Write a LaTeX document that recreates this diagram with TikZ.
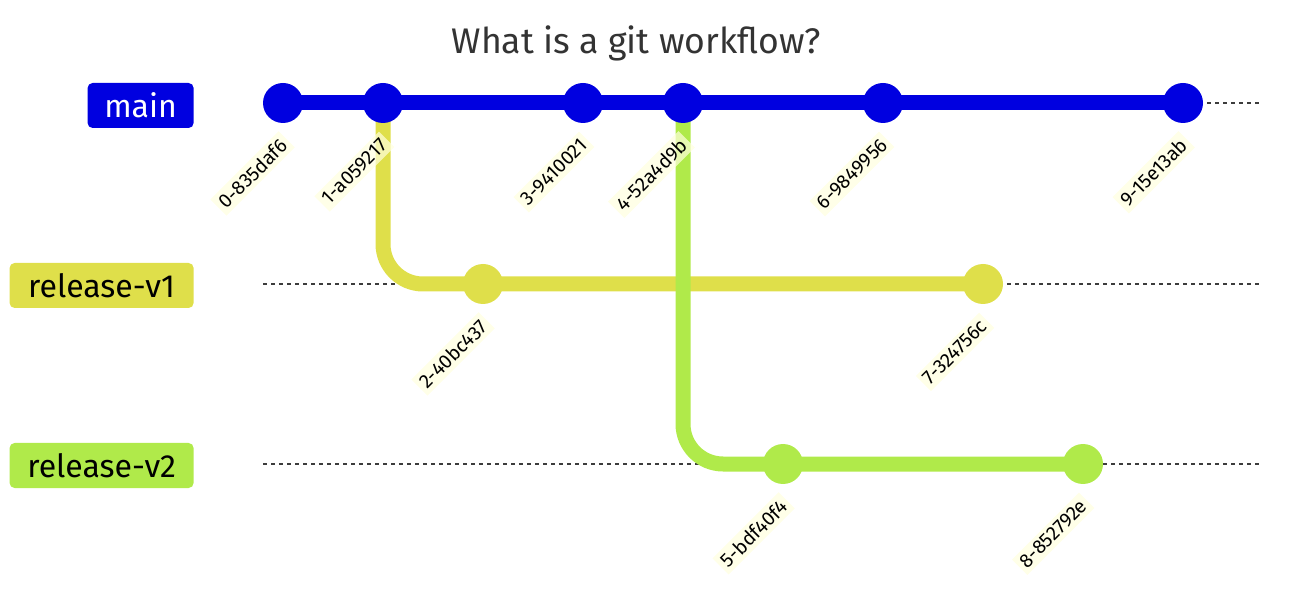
\documentclass[tikz,border=0pt]{standalone}
\usepackage{fontspec}
\setmainfont{Fira Sans}
\usetikzlibrary{backgrounds}

\definecolor{mainblue}{RGB}{0,0,224}
\definecolor{relyellow}{RGB}{223,223,74}
\definecolor{relgreen}{RGB}{176,234,74}
\definecolor{tagbg}{RGB}{255,255,222}
\definecolor{titlegray}{RGB}{51,51,51}
\definecolor{lanegray}{RGB}{60,60,60}

\begin{document}
\begin{tikzpicture}[x=0.5pt,y=-0.5pt,
  commit/.style={circle,inner sep=0pt,minimum size=20pt},
  hashtag/.style={fill=tagbg,fill opacity=0.7,text opacity=1,inner sep=2pt,
    font=\fontsize{9.8}{11}\selectfont,rotate=45,anchor=east},
  branchtag/.style={rounded corners=2.5pt,inner xsep=4pt,minimum height=22.5pt,
    minimum width=53pt,font=\fontsize{16}{19}\selectfont,anchor=east},
  lane/.style={lanegray,line width=0.7pt,dash pattern=on 2pt off 2pt},
  branchline/.style={line width=7.5pt,rounded corners=20pt}]

  \useasboundingbox (0,0) rectangle (1290,598);

  \def\ymain{103}
  \def\yrelA{284}
  \def\yrelB{464}

  % title
  \node[text=titlegray,font=\fontsize{17.8}{20}\selectfont] (title) at (636,43)
    {What is a git workflow?};

  % branch names
  \node[branchtag,fill=mainblue,text=white] (lmain) at (194,105.5) {main};
  \node[branchtag,fill=relyellow,text=black,minimum width=92pt] (lrelA)
    at (194,285.5) {release-v1};
  \node[branchtag,fill=relgreen,text=black,minimum width=92pt] (lrelB)
    at (194,465.5) {release-v2};

  % commits
  \foreach \i/\x/\y/\col in {0/283/\ymain/mainblue, 1/383/\ymain/mainblue,
      2/483/\yrelA/relyellow, 3/583/\ymain/mainblue, 4/683/\ymain/mainblue,
      5/783/\yrelB/relgreen, 6/883/\ymain/mainblue, 7/983/\yrelA/relyellow,
      8/1083/\yrelB/relgreen, 9/1183/\ymain/mainblue}
    \node[commit,fill=\col] (c\i) at (\x,\y) {};

  % lanes and branch lines
  \begin{pgfonlayer}{background}
    \foreach \y in {\ymain,\yrelA,\yrelB}
      \draw[lane] (263,\y) -- (1262,\y);
    \draw[branchline,relyellow] (c1.center) |- (c2.center) -- (c7.center);
    \draw[branchline,relgreen] (c4.center) |- (c5.center) -- (c8.center);
    \draw[branchline,mainblue] (c0.center) -- (c9.center);
  \end{pgfonlayer}

  % commit ids
  \foreach \i/\txt in {0/0-835daf6, 1/1-a059217, 2/2-40bc437, 3/3-9410021,
      4/4-52a4d9b, 5/5-bdf40f4, 6/6-9849956, 7/7-324756c, 8/8-852792e,
      9/9-15e13ab}
    \node[hashtag] (h\i) at ([xshift=2pt,yshift=-18pt]c\i.center) {\txt};

\end{tikzpicture}
\end{document}
